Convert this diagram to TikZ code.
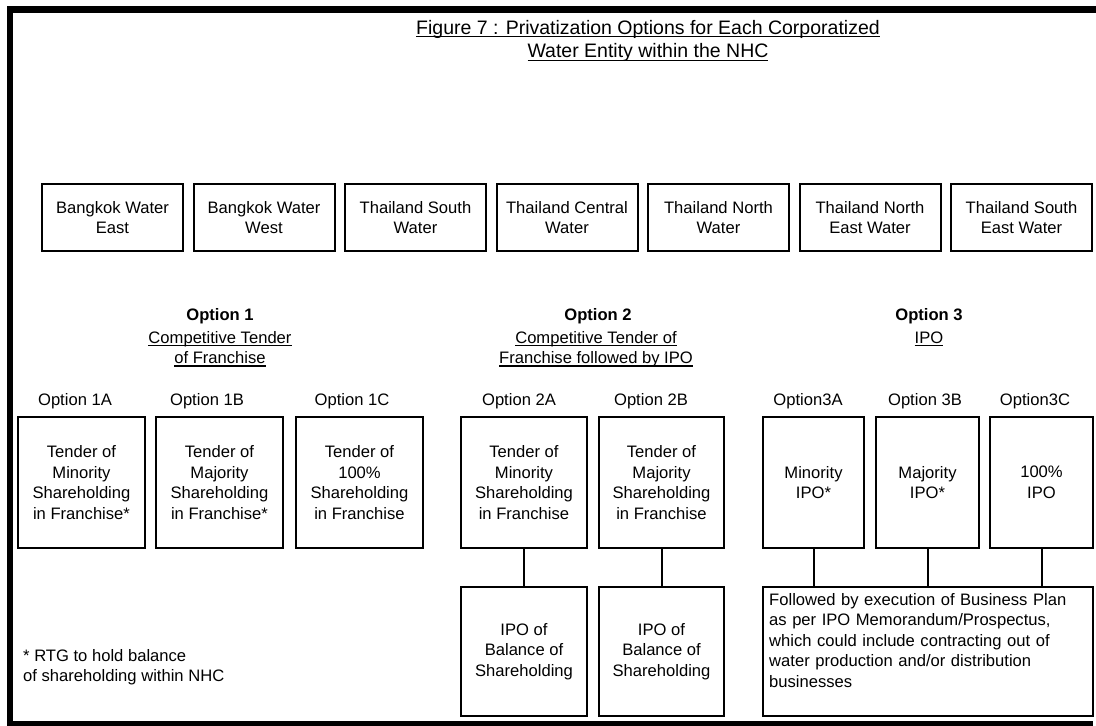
\documentclass[tikz,border=0pt]{standalone}
\usepackage{fontspec}
\setmainfont{Liberation Sans}
% body and title type sizes
\newcommand{\bodyfont}{\fontsize{16.6}{20.5}\selectfont}
\newcommand{\titlefont}{\fontsize{19.5}{23.5}\selectfont}
% underline drawn as a rule at a fixed depth below the baseline
\newcommand{\myul}[1]{\leavevmode\setbox0\hbox{#1}\rlap{\rule[-3pt]{\wd0}{1.3pt}}\box0}

\begin{document}
\begin{tikzpicture}[x=1pt,y=-1pt,
  every node/.style={font=\bodyfont, inner sep=0pt},
  box/.style={draw, line width=2pt, align=center},
  entity/.style={box, minimum width=141pt, minimum height=67pt},
  optbox/.style={box, minimum height=131pt},
  lowbox/.style={box, minimum height=129pt},
  conn/.style={line width=2pt},
  optlabel/.style={anchor=center},
  head/.style={font=\bodyfont\bfseries},
]
\useasboundingbox (0,0) rectangle (1096,726);

% page frame
\fill (7,6) rectangle (1096,13);
\fill (7,6) rectangle (13,726);
\fill (7,721) rectangle (1093,726);

% title
\node[font=\titlefont, align=center, anchor=north] (title) at (648,20)
  {\myul{Figure 7 : Privatization Options for Each Corporatized}\\
   \myul{Water Entity within the NHC}};

% water entities
\node[entity] (e1) at (112.5,217.5) {Bangkok Water\\East};
\node[entity] (e2) at (264,217.5)   {Bangkok Water\\West};
\node[entity] (e3) at (415.5,217.5) {Thailand South\\Water};
\node[entity] (e4) at (567,217.5)   {Thailand Central\\Water};
\node[entity] (e5) at (718.5,217.5) {Thailand North\\Water};
\node[entity] (e6) at (870,217.5)   {Thailand North\\East Water};
\node[entity] (e7) at (1021.5,217.5){Thailand South\\East Water};

% option group headings
\node[head] (h1) at (220,316) {Option 1};
\node[align=center] (s1) at (220,349) {\myul{Competitive Tender}\\\myul{of Franchise}};
\node[head] (h2) at (598,316) {Option 2};
\node[align=center] (s2) at (596,349) {\myul{Competitive Tender of}\\\myul{Franchise followed by IPO}};
\node[head] (h3) at (929,316) {Option 3};
\node (s3) at (929,339) {\myul{IPO}};

% sub-option labels
\node[optlabel] (l1a) at (75,401)   {Option 1A};
\node[optlabel] (l1b) at (207,401)  {Option 1B};
\node[optlabel] (l1c) at (352,401)  {Option 1C};
\node[optlabel] (l2a) at (519,401)  {Option 2A};
\node[optlabel] (l2b) at (651,401)  {Option 2B};
\node[optlabel] (l3a) at (808,401)  {Option3A};
\node[optlabel] (l3b) at (925,401)  {Option 3B};
\node[optlabel] (l3c) at (1035,401) {Option3C};

% sub-option boxes
\node[optbox, minimum width=127pt] (b1a) at (81.5,482.5)  {Tender of\\Minority\\Shareholding\\in Franchise*};
\node[optbox, minimum width=127pt] (b1b) at (219.5,482.5) {Tender of\\Majority\\Shareholding\\in Franchise*};
\node[optbox, minimum width=127pt] (b1c) at (359.5,482.5) {Tender of\\100\%\\Shareholding\\in Franchise};
\node[optbox, minimum width=126pt] (b2a) at (524,482.5)   {Tender of\\Minority\\Shareholding\\in Franchise};
\node[optbox, minimum width=125pt] (b2b) at (661.5,482.5) {Tender of\\Majority\\Shareholding\\in Franchise};
\node[optbox, minimum width=101pt] (b3a) at (813.5,482.5) {Minority\\IPO*};
\node[optbox, minimum width=103pt] (b3b) at (927.5,482.5) {Majority\\IPO*};
\node[optbox, minimum width=103pt] (b3c) at (1041.5,482.5){100\%\\IPO};

% follow-up steps
\node[lowbox, minimum width=126pt] (b2alow) at (524,651.5)   {IPO of\\Balance of\\Shareholding};
\node[lowbox, minimum width=125pt] (b2blow) at (661.5,651.5) {IPO of\\Balance of\\Shareholding};
\node[lowbox, minimum width=330pt] (fol) at (928,651.5) {};
\node[anchor=north west, align=left, text width=318pt] (foltext)
  at ([xshift=7pt,yshift=-7pt]fol.north west)
  {Followed by execution of Business Plan\\
   as per IPO Memorandum/Prospectus,\\
   which could include contracting out of\\
   water production and/or distribution\\
   businesses};

% connectors
\draw[conn] (b2a.south) -- (b2alow.north);
\draw[conn] (b2b.south) -- (b2blow.north);
\draw[conn] (b3a.south) -- (b3a.south |- fol.north);
\draw[conn] (b3b.south) -- (b3b.south |- fol.north);
\draw[conn] (b3c.south) -- (b3c.south |- fol.north);

% footnote
\node[anchor=west, align=left] (note) at (23,667)
  {* RTG to hold balance\\of shareholding within NHC};
\end{tikzpicture}
\end{document}
